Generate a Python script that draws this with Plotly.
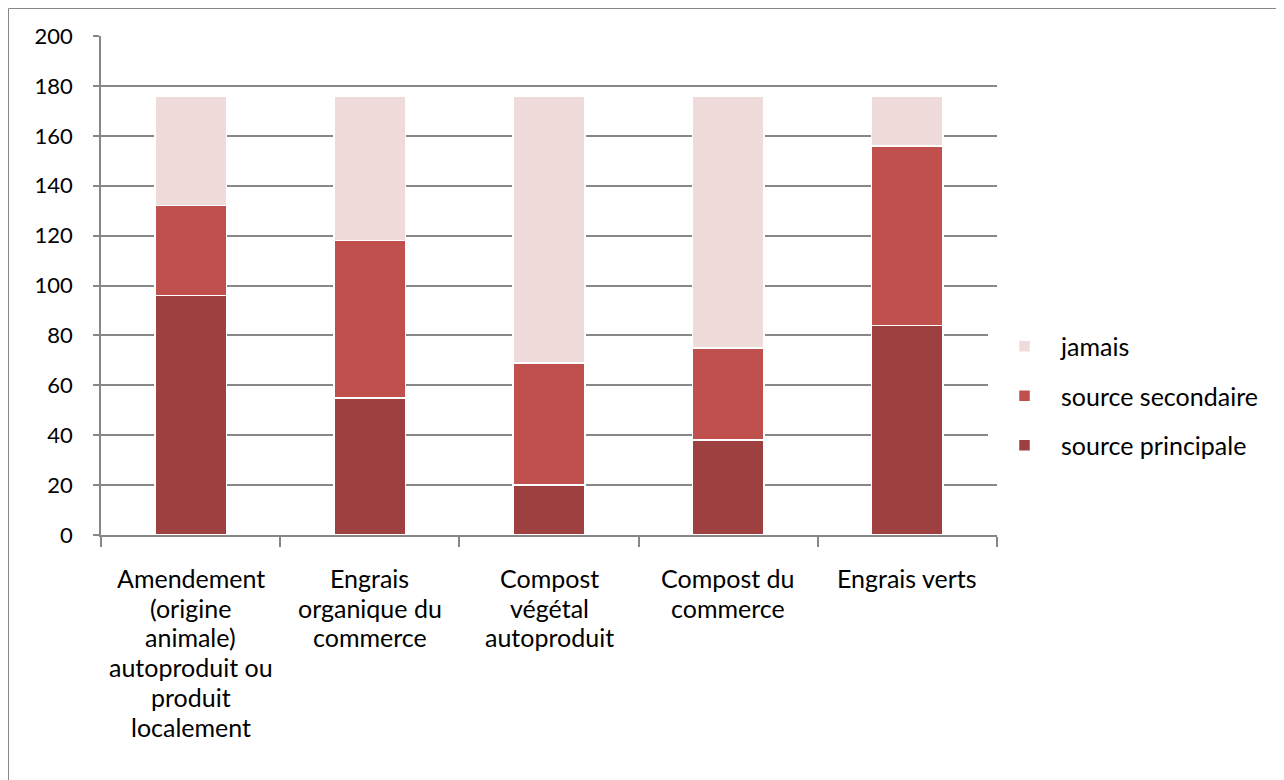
import plotly.graph_objects as go

categories = [
    "Amendement<br>(origine<br>animale)<br>autoproduit ou<br>produit<br>localement",
    "Engrais<br>organique du<br>commerce",
    "Compost<br>végétal<br>autoproduit",
    "Compost du<br>commerce",
    "Engrais verts",
]
source_principale = [96, 55, 20, 38, 84]
source_secondaire = [36, 63, 49, 37, 72]
jamais = [44, 58, 107, 101, 20]

y_ticks = [0, 20, 40, 60, 80, 100, 120, 140, 160, 180, 200]

FONT = "Lato, 'Liberation Sans', sans-serif"
GRID = "#878787"

fig = go.Figure()
series = [
    ("source principale", source_principale, "#9E403F", 3),
    ("source secondaire", source_secondaire, "#C0504D", 2),
    ("jamais", jamais, "#F0DBDB", 1),
]
for i, (name, vals, col, rank) in enumerate(series):
    fig.add_trace(go.Bar(
        name=name, x=categories, y=vals, legendgroup=str(i), legendrank=rank,
        marker=dict(color=col, line=dict(color="white", width=1.5)),
    ))

# figure is placed at (8, 8) in the page by the default body margin
W, H = 1276, 772
L, R, T, B = 93, 287, 28, 245
pw, ph = W - L - R, H - T - B

def px_x(p):
    return (p - L) / pw

def px_y(p):
    return (H - B - p) / ph

# category labels, one annotation per line to match the line spacing
annotations = []
for cat in categories:
    for j, line in enumerate(cat.split("<br>")):
        annotations.append(dict(
            x=cat, xref="x", y=0, yref="paper", text=line, showarrow=False,
            xanchor="center", yanchor="middle", yshift=-(43 + 29.7 * j),
            font=dict(size=25, family=FONT, color="#000000"),
        ))

fig.update_layout(
    width=W, height=H,
    margin=dict(l=L, r=R, t=T, b=B),
    barmode="stack", bargap=0.6,
    plot_bgcolor="white", paper_bgcolor="white",
    font=dict(family=FONT, size=25, color="#000000"),
    legend=dict(
        x=px_x(980), y=px_y(388), xanchor="left", yanchor="middle",
        traceorder="grouped", tracegroupgap=14,
        font=dict(size=25), itemwidth=63,
    ),
    annotations=annotations,
    shapes=[dict(
        type="rect", xref="paper", yref="paper",
        x0=px_x(0.5), x1=px_x(1275), y0=px_y(790), y1=px_y(0.5),
        line=dict(color="#888888", width=1), layer="below",
    )],
)
fig.update_yaxes(
    range=[0, 200], tickvals=y_ticks, showgrid=True, gridcolor=GRID, gridwidth=1.5,
    showline=True, linecolor=GRID, linewidth=1.5, ticks="outside", ticklen=6,
    tickcolor=GRID, tickwidth=1.5, ticklabelstandoff=16, zeroline=False,
    tickfont=dict(size=22),
)
fig.update_xaxes(
    showline=True, linecolor=GRID, linewidth=1.5, ticks="outside", ticklen=10,
    tickson="boundaries", tickcolor=GRID, tickwidth=1.5,
    showticklabels=False, showgrid=False,
)

fig.write_html("out.html")
